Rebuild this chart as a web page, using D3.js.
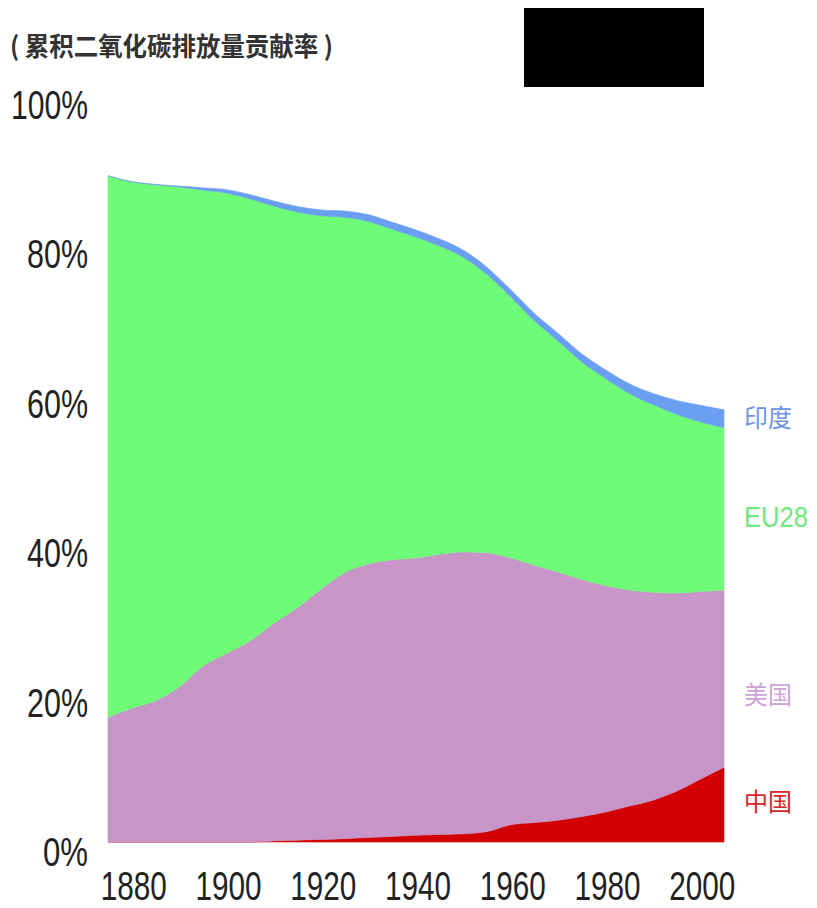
<!DOCTYPE html>
<html><head><meta charset="utf-8">
<script src="https://cdn.jsdelivr.net/npm/d3@7"></script>
<style>
html,body{margin:0;padding:0;background:#fff;}
svg{display:block;}
</style></head>
<body>
<svg id="chart" width="817" height="908"></svg>
<script>
// ---- data (cumulative CO2 emission share, %) ----
const years = [1875,1880,1885,1890,1895,1900,1905,1910,1915,1920,1925,1930,1935,1940,1945,1950,1955,1960,1965,1970,1975,1980,1985,1990,1995,2000,2005];
const china = [0,0,0,0,0,0,0,0.15,0.25,0.35,0.45,0.6,0.75,0.9,1.0,1.1,1.4,2.3,2.6,2.9,3.4,4.0,4.8,5.6,6.8,8.4,10.0];
const usa   = [16.7,17.9,18.9,20.7,23.5,25.2,26.9,29.1,31.1,33.5,35.6,36.6,37.0,37.1,37.5,37.7,37.3,35.7,34.4,33.2,31.7,30.3,28.9,27.8,26.5,25.1,23.7];
const eu28  = [72.4,70.4,69.0,66.9,63.7,61.6,59.1,55.8,52.9,49.9,47.5,45.8,44.2,42.9,41.2,39.4,37.2,34.9,32.7,30.9,29.1,27.7,26.3,25.1,23.9,22.7,21.7];
const india = [0,0,0.05,0.12,0.3,0.45,0.58,0.68,0.74,0.79,0.84,0.88,0.93,0.95,0.95,0.95,0.95,0.95,0.98,1.02,1.08,1.15,1.28,1.5,1.85,2.2,2.4];
const seriesKeys = ["中国","美国","EU28","印度"];
const seriesLabels = ["印度","EU28","美国","中国"];
const xTicks = [1880,1900,1920,1940,1960,1980,2000];
const yTicks = [0,20,40,60,80,100];
const title = "( 累积二氧化碳排放量贡献率 )";

// ---- build table ----
const table = years.map((y,i)=>({year:y,"中国":china[i],"美国":usa[i],"EU28":eu28[i],"印度":india[i]}));

const svg = d3.select("#chart");
const x = d3.scaleLinear().domain([1875,2005]).range([108,724]);
const y = d3.scaleLinear().domain([0,100]).range([842,94.3]);

const fill = {"中国":"#d20000","美国":"#c795c8","EU28":"#6efc78","印度":"#6a9ef0"};
const labelColor = {"中国":"#d42828","美国":"#cda2d6","EU28":"#6fe87c","印度":"#6c94e6"};

const stack = d3.stack().keys(seriesKeys);
const layers = stack(table);
const area = d3.area()
  .x(d=>x(d.data.year))
  .y0(d=>y(d[0]))
  .y1(d=>y(d[1]))
  .curve(d3.curveMonotoneX);

svg.append("g").selectAll("path").data(layers).join("path")
  .attr("d",area)
  .attr("fill",d=>fill[d.key])
  .attr("stroke",d=>fill[d.key])
  .attr("stroke-width",0.6);

// title
svg.append("text")
  .attr("x",10).attr("y",56)
  .attr("font-family","'Noto Sans CJK SC', sans-serif")
  .attr("font-weight","bold")
  .attr("font-size",26)
  .attr("fill","#333")
  .attr("textLength",323)
  .attr("lengthAdjust","spacingAndGlyphs")
  .text(title);

// black box
svg.append("rect").attr("x",524).attr("y",8).attr("width",180).attr("height",79).attr("fill","#000");

// y axis labels
const numFont = "'Liberation Sans', Arial, sans-serif";
svg.append("g").selectAll("text").data(yTicks).join("text")
  .attr("x",88)
  .attr("y",d=>y(d)+10)
  .attr("dy","0.36em")
  .attr("text-anchor","end")
  .attr("font-family",numFont)
  .attr("font-size",40)
  .attr("fill","#222")
  .attr("textLength",d=>String(d).length*16+29)
  .attr("lengthAdjust","spacingAndGlyphs")
  .text(d=>d+"%");

// x axis labels
svg.append("g").selectAll("text").data(xTicks).join("text")
  .attr("x",d=>x(d)+2)
  .attr("y",886)
  .attr("dy","0.36em")
  .attr("text-anchor","middle")
  .attr("font-family",numFont)
  .attr("font-size",40)
  .attr("fill","#222")
  .attr("textLength",66)
  .attr("lengthAdjust","spacingAndGlyphs")
  .text(d=>d);

// right-side series labels
const labelY = {"印度":418,"EU28":517,"美国":695,"中国":802};
svg.append("g").selectAll("text").data(seriesLabels).join("text")
  .attr("x",744)
  .attr("y",d=>labelY[d])
  .attr("dy","0.36em")
  .attr("font-family",d=>d==="EU28"?numFont:"'Noto Sans CJK SC', sans-serif")
  .attr("font-size",d=>d==="EU28"?29:25)
  .attr("textLength",d=>d==="EU28"?64:48)
  .attr("lengthAdjust","spacingAndGlyphs")
  .attr("fill",d=>labelColor[d])
  .text(d=>d);
</script>
</body></html>
